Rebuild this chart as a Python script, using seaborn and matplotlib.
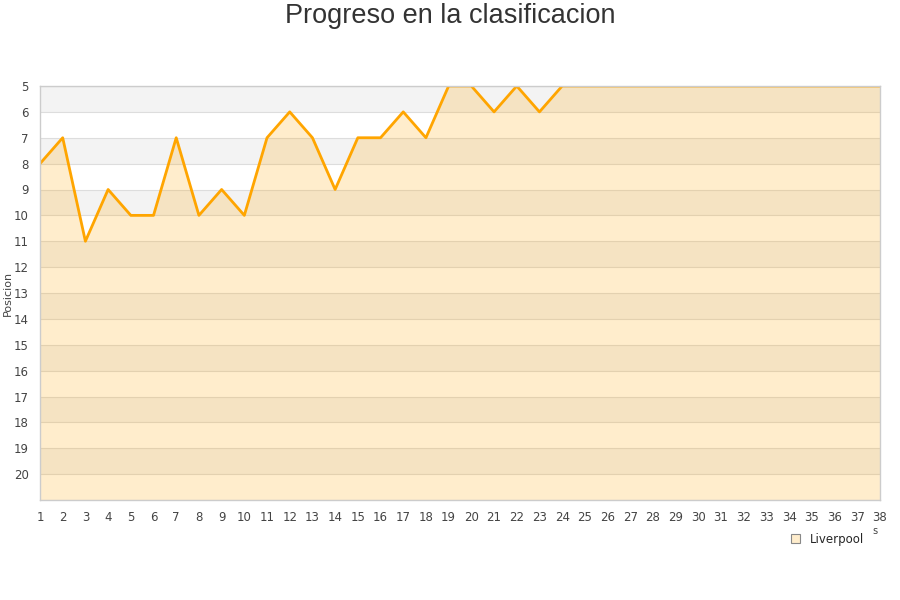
"""Progreso en la clasificacion — Liverpool, posicion por jornada."""

import matplotlib

matplotlib.use("Agg")
import matplotlib.pyplot as plt
import pandas as pd
import seaborn as sns
from matplotlib.patches import Patch

JORNADAS = list(range(1, 39))
POSICIONES = [8, 7, 11, 9, 10, 10, 7, 10, 9, 10,
              7, 6, 7, 9, 7, 7, 6, 7, 5, 5,
              6, 5, 6, 5, 5, 5, 5, 5, 5, 5,
              5, 5, 5, 5, 5, 5, 5, 5]
EQUIPO = "Liverpool"
Y_TICKS = list(range(5, 21))

NARANJA = "#ffa500"
GRIS_BANDA = "#f3f3f3"


def main() -> None:
    sns.set_style("white")
    plt.rcParams["font.family"] = ["DejaVu Sans"]

    df = pd.DataFrame({"jornada": JORNADAS, "posicion": POSICIONES})

    fig = plt.figure(figsize=(9, 6), dpi=100)
    ax = fig.add_axes([40 / 900, 100 / 600, 840 / 900, 414 / 600])

    # bandas alternas de fondo
    for y in range(5, 21, 2):
        ax.axhspan(y, y + 1, color=GRIS_BANDA, zorder=0, lw=0)
    for y in range(5, 22):
        ax.axhline(y, color="#dddddd", lw=0.8, zorder=0.5)

    ax.fill_between(df["jornada"], df["posicion"], 21, color=NARANJA,
                    alpha=0.2, lw=0, zorder=1)
    sns.lineplot(data=df, x="jornada", y="posicion", ax=ax, color=NARANJA,
                 lw=2, zorder=2)

    ax.set_xlim(1, 38)
    ax.set_ylim(21, 5)
    ax.set_xticks(JORNADAS)
    ax.set_yticks(Y_TICKS)
    ax.tick_params(length=0, labelsize=8.5, colors="#444444")
    ax.tick_params(axis="x", pad=8)
    ax.tick_params(axis="y", pad=8)
    ax.set_xlabel("")
    ax.set_ylabel("Posicion", fontsize=8, color="#444444")
    ax.yaxis.set_label_coords(-27 / 840, 0.5)
    for lado in ax.spines.values():
        lado.set_color("#cccccc")
        lado.set_linewidth(1)

    fig.text(0.5, 1 - 16 / 600, "Progreso en la clasificacion", ha="center",
             va="center", fontsize=19.5, color="#333333",
             family=["Liberation Sans", "DejaVu Sans"])
    fig.text(875 / 900, 1 - 531 / 600, "s", ha="center", va="center",
             fontsize=7, color="#444444")

    fig.legend(handles=[Patch(facecolor="#ffedcc", edgecolor="#888888",
                              lw=0.8, label=EQUIPO)],
               loc="center right", bbox_to_anchor=(0.972, 0.101),
               frameon=False, fontsize=8.5, handlelength=0.8, handleheight=0.8,
               handletextpad=0.8)

    fig.savefig("out.png", dpi=100)
    plt.close(fig)


if __name__ == "__main__":
    main()
